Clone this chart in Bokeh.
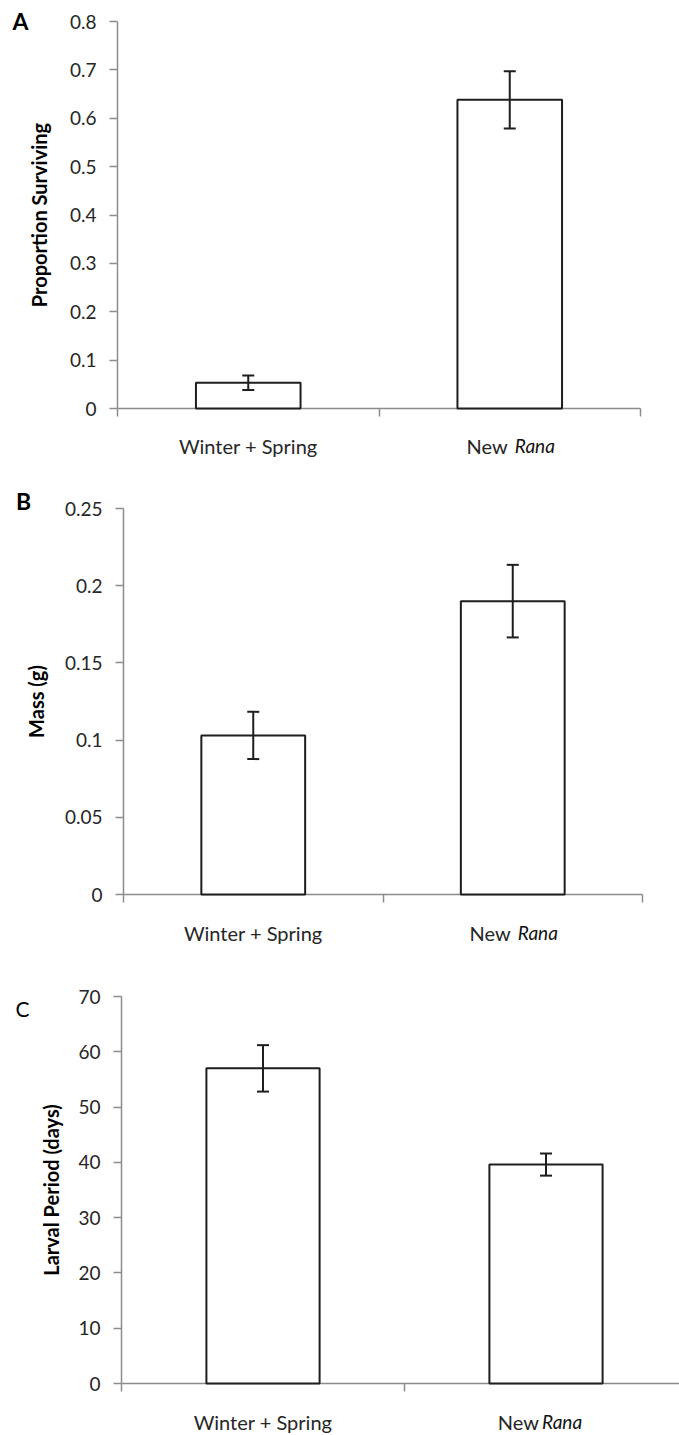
from bokeh.plotting import figure
from bokeh.models import Range1d, FixedTicker, Whisker, ColumnDataSource, TeeHead
from bokeh.core.properties import value
from bokeh.layouts import column
from bokeh.embed import file_html
from bokeh.resources import INLINE

# ---------------- data ----------------
categories = ["Winter + Spring", "New Rana"]

surv_mean = [0.053, 0.638]
surv_err = [0.015, 0.059]
surv_ticks = [0, 0.1, 0.2, 0.3, 0.4, 0.5, 0.6, 0.7, 0.8]
surv_labels = ["0", "0.1", "0.2", "0.3", "0.4", "0.5", "0.6", "0.7", "0.8"]

mass_mean = [0.103, 0.190]
mass_err = [0.0153, 0.0235]
mass_ticks = [0, 0.05, 0.1, 0.15, 0.2, 0.25]
mass_labels = ["0", "0.05", "0.1", "0.15", "0.2", "0.25"]

larval_mean = [57.0, 39.6]
larval_err = [4.2, 2.0]
larval_ticks = [0, 10, 20, 30, 40, 50, 60, 70]
larval_labels = ["0", "10", "20", "30", "40", "50", "60", "70"]

FONT = "Lato"
AXIS_COL = "#8c8c8c"
TXT_COL = "#262626"
BAR_COL = "#1e1e1e"
W = 679


def make_panel(letter, letter_bold, ylabel, means, errs, ticks, labels,
               height, x0px, x2px, y0px, ytop_px, ylabel_standoff,
               letter_xy, cat_offset, new_gap):
    n = len(categories)
    ymax = ticks[-1]
    ux = (x2px - x0px) / n            # pixels per category
    uy = (y0px - ytop_px) / ymax      # pixels per data unit

    def dx(px):
        return (px - x0px) / ux

    def dy(px):
        return (y0px - px) / uy

    p = figure(width=W, height=height, output_backend="svg", toolbar_location=None,
               x_range=Range1d(dx(0), dx(W)), y_range=Range1d(dy(height), dy(0)),
               min_border=0, min_border_left=0, min_border_right=0,
               min_border_top=0, min_border_bottom=0)
    p.frame_align = False
    p.outline_line_color = None
    p.xgrid.grid_line_color = None
    p.ygrid.grid_line_color = None
    p.background_fill_color = "white"
    p.border_fill_color = "white"

    centers = [i + 0.5 for i in range(n)]
    src = ColumnDataSource(dict(x=centers, top=means,
                                lo=[m - e for m, e in zip(means, errs)],
                                hi=[m + e for m, e in zip(means, errs)]))
    bars = p.vbar(x="x", top="top", bottom=0, width=0.4, source=src,
                  fill_color="white", line_color=BAR_COL, line_width=2)
    bars.level = "overlay"
    w = Whisker(base="x", lower="lo", upper="hi", source=src, dimension="height",
                line_color=BAR_COL, line_width=2, level="overlay",
                upper_head=TeeHead(size=12, line_color=BAR_COL, line_width=2),
                lower_head=TeeHead(size=12, line_color=BAR_COL, line_width=2))
    p.add_layout(w)

    # y axis
    ya = p.yaxis[0]
    ya.fixed_location = 0
    ya.bounds = (0, ymax)
    ya.ticker = FixedTicker(ticks=ticks)
    ya.major_label_overrides = {t: l for t, l in zip(ticks, labels)}
    ya.minor_tick_line_color = None
    ya.major_tick_out = 8
    ya.major_tick_in = 0
    ya.major_tick_line_color = AXIS_COL
    ya.major_tick_line_width = 1.5
    ya.axis_line_color = AXIS_COL
    ya.axis_line_width = 1.5
    ya.major_label_text_font = FONT
    ya.major_label_text_font_size = "19px"
    ya.major_label_text_color = TXT_COL
    ya.major_label_standoff = 13
    ya.axis_label = ylabel
    ya.axis_label_text_font = FONT
    ya.axis_label_text_font_style = "bold"
    ya.axis_label_text_font_size = "20px"
    ya.axis_label_text_color = "#000000"
    ya.axis_label_standoff = ylabel_standoff

    # x axis: category boundaries
    xa = p.xaxis[0]
    xa.fixed_location = 0
    xa.bounds = (0, n)
    bounds = list(range(n + 1))
    xa.ticker = FixedTicker(ticks=bounds)
    xa.major_label_overrides = {b: "" for b in bounds}
    xa.minor_tick_line_color = None
    xa.major_tick_out = 8
    xa.major_tick_in = 0
    xa.major_tick_line_color = AXIS_COL
    xa.major_tick_line_width = 1.5
    xa.axis_line_color = AXIS_COL
    xa.axis_line_width = 1.5
    xa.major_label_text_font_size = "1px"

    # category labels
    ylab = dy(y0px + cat_offset)
    p.text(x=[centers[0]], y=[ylab], text=[categories[0]],
           text_align="center", text_baseline="middle",
           text_font=value(FONT), text_font_size="20px", text_color=TXT_COL)
    first, second = categories[1].split(" ")
    p.text(x=[centers[1] + new_gap[0] / ux], y=[ylab], text=[first],
           text_align="right", text_baseline="middle",
           text_font=value(FONT), text_font_size="20px", text_color=TXT_COL)
    p.text(x=[centers[1] + new_gap[1] / ux], y=[ylab], text=[second],
           text_align="left", text_baseline="middle",
           text_font=value(FONT), text_font_style="italic", text_font_size="19px",
           text_color="#111111")

    # panel letter
    p.text(x=[dx(letter_xy[0])], y=[dy(letter_xy[1])], text=[letter],
           text_align="center", text_baseline="middle",
           text_font=value(FONT), text_font_style="bold" if letter_bold else "normal",
           text_font_size="23px" if letter_bold else "21px", text_color="#000000")
    return p


pA = make_panel("A", True, "Proportion Surviving", surv_mean, surv_err, surv_ticks, surv_labels,
                height=470, x0px=117, x2px=640, y0px=408, ytop_px=21, ylabel_standoff=16,
                letter_xy=(20, 20), cat_offset=37, new_gap=(-2, 5))
pB = make_panel("B", True, "Mass (g)", mass_mean, mass_err, mass_ticks, mass_labels,
                height=490, x0px=123, x2px=642, y0px=424, ytop_px=38, ylabel_standoff=14,
                letter_xy=(23, 30), cat_offset=38, new_gap=(-2, 5))
pC = make_panel("C", False, "Larval Period (days)", larval_mean, larval_err, larval_ticks,
                larval_labels, height=475, x0px=121, x2px=687, y0px=423, ytop_px=36,
                ylabel_standoff=12, letter_xy=(22, 48), cat_offset=38, new_gap=(-7, -4))

layout = column(pA, pB, pC, spacing=0)
open("out.html", "w").write(file_html(layout, INLINE))
